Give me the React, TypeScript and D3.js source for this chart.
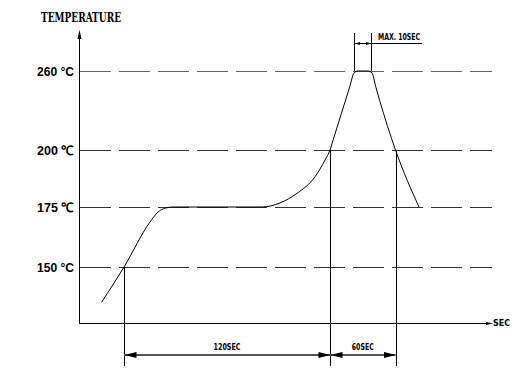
import React from "react";
import * as d3 from "d3";

// ---- data ----
const tempTicks = [150, 175, 200, 260];
const tempLabels = ["150 °C", "175 ℃", "200 ℃", "260 °C"];
// profile (time s, temperature °C)
const profileTime = [15, 30, 45.1, 49.8, 53.9, 58.5, 110.4, 120.9, 130.8, 141.3, 147.1, 150, 153, 168, 172, 175.6, 184.8, 188.5, 192, 206, 210, 232.4];
const profileTemp = [135.5, 150, 168.7, 172.9, 174.5, 175, 175, 176.8, 181, 188.3, 195.6, 200, 208, 247.8, 258.5, 260, 260, 258.5, 247.8, 209.7, 200, 175];
const markTimes = [30, 150, 210];
const spanLabels = ["120SEC", "60SEC"];
const peakTimes = [172, 187.6];
const peakLabel = "MAX. 10SEC";
const xAxisLabel = "SEC";
const yAxisLabel = "TEMPERATURE";

export default function App() {
  const W = 517, H = 379;
  // schematic (piecewise) scales
  const x = d3.scaleLinear().domain([0, 30, 150, 210, 300]).range([79, 124, 330, 395.5, 490]);
  const y = d3.scaleLinear().domain([127, 150, 175, 200, 260]).range([323, 267, 207, 150, 71]);
  const x0 = x(0), x1 = x(300), y0 = y(127);
  const line = d3.line<number>()
    .x((_, i) => x(profileTime[i]))
    .y((d) => y(d))
    .curve(d3.curveMonotoneX);
  const profilePath = line(profileTemp) || "";
  const dimY = 355;
  const boldCond = "'DejaVu Sans Condensed', 'DejaVu Sans', sans-serif";
  const arrow = (tipX: number, dir: number, yy: number, len = 12, half = 3) =>
    `M${tipX},${yy}L${tipX + dir * len},${yy - half}L${tipX + dir * len},${yy + half}Z`;

  return (
    <svg width={W} height={H} style={{ position: "absolute", left: 0, top: 0, background: "#fff" }}>
      {/* gridlines */}
      {tempTicks.map((t, i) => (
        <line key={"g" + i} x1={x0 + 1} x2={492} y1={Math.round(y(t)) + 0.5} y2={Math.round(y(t)) + 0.5}
          stroke={i === 3 ? "#666" : "#333"} strokeWidth={1} strokeDasharray="31 8" />
      ))}
      {/* tick labels */}
      {tempTicks.map((t, i) => (
        <text key={"l" + i} x={74} y={y(t) + 5} textAnchor="end" fontFamily="'Liberation Sans', Arial, sans-serif"
          fontWeight="bold" fontSize={13} fill="#000" textLength={37} lengthAdjust="spacingAndGlyphs">
          {tempLabels[i]}
        </text>
      ))}
      {/* axes */}
      <line x1={x0 + 0.5} x2={x0 + 0.5} y1={y0} y2={36} stroke="#000" strokeWidth={1} />
      <path d={`M${x0 + 0.5},30L${x0 - 1.5},39L${x0 + 2.5},39Z`} fill="#000" />
      <line x1={x0} x2={x1} y1={y0 + 0.5} y2={y0 + 0.5} stroke="#000" strokeWidth={1} />
      <path d={`M${x1 + 3},${y0 + 0.5}L${x1 - 4},${y0 - 1}L${x1 - 4},${y0 + 2}Z`} fill="#000" />
      <text x={493} y={326} fontFamily={boldCond} fontWeight="bold" fontSize={8} textLength={17}
        lengthAdjust="spacingAndGlyphs">{xAxisLabel}</text>
      <text x={41} y={22} fontFamily="'DejaVu Serif Condensed', 'DejaVu Serif', serif" fontWeight="bold"
        fontSize={12} textLength={80} lengthAdjust="spacingAndGlyphs">{yAxisLabel}</text>
      {/* vertical markers */}
      {markTimes.map((t, i) => {
        const xx = Math.round(x(t)) + 0.5;
        const top = i === 0 ? y(150) : y(200);
        return <line key={"m" + i} x1={xx} x2={xx} y1={top} y2={366} stroke="#000" strokeWidth={1} />;
      })}
      {/* bottom dimensions */}
      <line x1={x(markTimes[0])} x2={x(markTimes[2])} y1={dimY} y2={dimY} stroke="#555" strokeWidth={2} />
      {spanLabels.map((s, i) => {
        const a = x(markTimes[i]), b = x(markTimes[i + 1]);
        return (
          <g key={"s" + i}>
            <path d={arrow(a + 0.5, 1, dimY)} fill="#000" />
            <path d={arrow(b + 0.5, -1, dimY)} fill="#000" />
            <text x={(a + b) / 2} y={350} textAnchor="middle" fontFamily={boldCond} fontWeight="bold"
              fontSize={8.5} textLength={i === 0 ? 27 : 22} lengthAdjust="spacingAndGlyphs">{s}</text>
          </g>
        );
      })}
      {/* peak time */}
      {peakTimes.map((t, i) => (
        <line key={"p" + i} x1={Math.round(x(t)) + 0.5} x2={Math.round(x(t)) + 0.5} y1={33} y2={y(260)}
          stroke="#000" strokeWidth={1} />
      ))}
      <line x1={x(peakTimes[0])} x2={422} y1={43.5} y2={43.5} stroke="#000" strokeWidth={1} />
      <path d={arrow(x(peakTimes[0]) + 1, 1, 43.5, 5, 1.5)} fill="#000" />
      <path d={arrow(x(peakTimes[1]), -1, 43.5, 5, 1.5)} fill="#000" />
      <text x={378} y={40} fontFamily={boldCond} fontWeight="bold" fontSize={8} textLength={42}
        lengthAdjust="spacingAndGlyphs">{peakLabel}</text>
      {/* profile */}
      <path d={profilePath} fill="none" stroke="#000" strokeWidth={1} />
    </svg>
  );
}
